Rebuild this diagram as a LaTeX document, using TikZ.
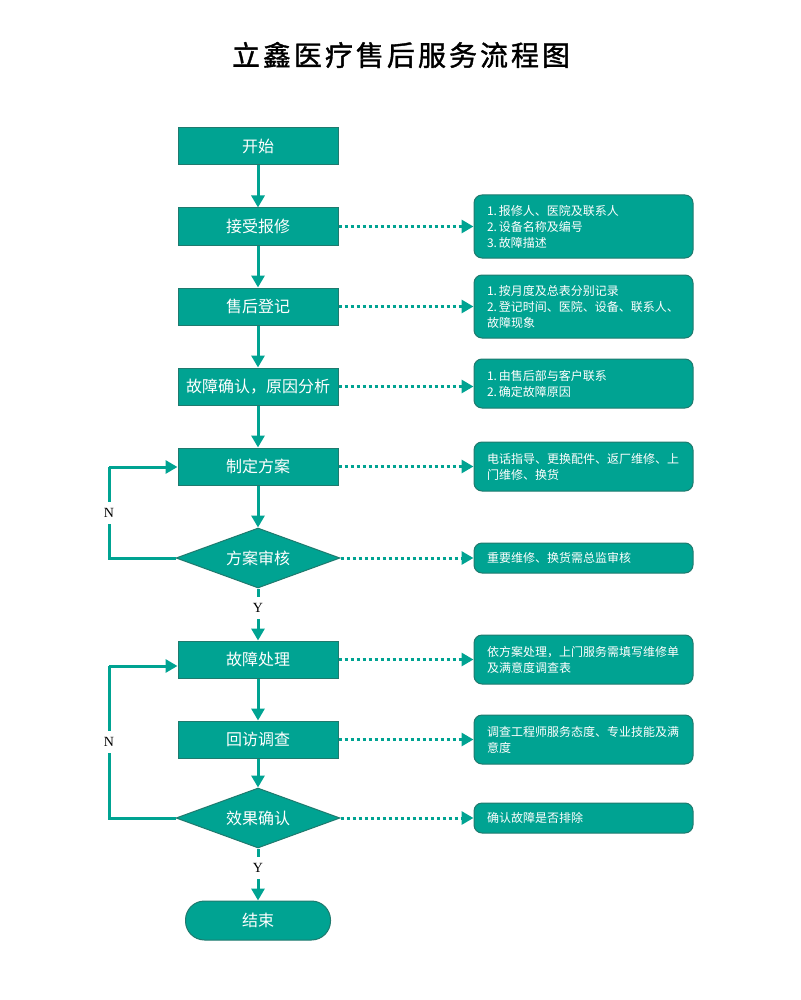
\documentclass[tikz,border=0pt]{standalone}
\usepackage{fontspec}
\setmainfont{Liberation Serif}
\newfontfamily\cjk{Noto Sans CJK SC}
\newfontfamily\cjktitle[BoldFont={Noto Sans CJK SC},BoldFeatures={FakeBold=1.3}]{Noto Sans CJK SC}
\usetikzlibrary{shapes.geometric,arrows.meta}
\definecolor{tealfill}{HTML}{00A392}
\definecolor{tealedge}{HTML}{1F7A6E}
\tikzset{
  x=1pt,y=-1pt,
  mainbox/.style={draw=tealedge,line width=1pt,fill=tealfill,text=white,minimum width=160pt,minimum height=37pt,inner sep=0pt,font=\cjk\fontsize{16}{18}\selectfont},
  endbox/.style={mainbox,minimum width=145pt,minimum height=39pt,rounded corners=19pt},
  decbox/.style={draw=tealedge,line width=1pt,fill=tealfill,text=white,shape=diamond,aspect=2.67,minimum width=164pt,minimum height=60pt,inner sep=0pt,font=\cjk\fontsize{16}{18}\selectfont},
  notebox/.style={draw=tealedge,line width=1pt,fill=tealfill,text=white,rounded corners=8pt,text width=193pt,inner xsep=13pt,inner ysep=0pt,align=left,font=\cjk\fontsize{12}{16}\selectfont},
  flow/.style={draw=tealfill,line width=3pt,-{Triangle[length=12pt,width=13pt]}},
  loopline/.style={draw=tealfill,line width=3pt},
  dotflow/.style={draw=tealfill,line width=3pt,dash pattern=on 3pt off 3pt,-{Triangle[length=12pt,width=13pt]}},
  lbl/.style={fill=white,inner sep=1pt,minimum height=22pt,font=\fontsize{14}{16}\selectfont}
}
\begin{document}
\begin{tikzpicture}
\useasboundingbox (0,0) rectangle (800,1000);
\node[font=\cjktitle\bfseries\fontsize{28}{30}\selectfont] (title) at (401,55) {立\kern3pt 鑫\kern3pt 医\kern3pt 疗\kern3pt 售\kern3pt 后\kern3pt 服\kern3pt 务\kern3pt 流\kern3pt 程\kern3pt 图};

\node[mainbox] (b0) at (258,146.5) {开始};
\node[mainbox] (b1) at (258,226.5) {接受报修};
\node[mainbox] (b2) at (258,306.5) {售后登记};
\node[mainbox] (b3) at (258,386.5) {故障确认，原因分析};
\node[mainbox] (b4) at (258,466.5) {制定方案};
\node[decbox] (d1) at (258,558) {方案审核};
\node[mainbox] (b5) at (258,659.5) {故障处理};
\node[mainbox] (b6) at (258,739.5) {回访调查};
\node[decbox] (d2) at (258,818) {效果确认};
\node[endbox] (e) at (258,920.5) {结束};

\node[notebox,minimum height=63pt] (n1) at (583.5,226.5) {1.\,报修人、医院及联系人\\2.\,设备名称及编号\\3.\,故障描述};
\node[notebox,minimum height=63pt] (n2) at (583.5,306.5) {1.\,按月度及总表分别记录\\2.\,登记时间、医院、设备、联系人、\\故障现象};
\node[notebox,minimum height=49pt] (n3) at (583.5,383.5) {1.\,由售后部与客户联系\\2.\,确定故障原因};
\node[notebox,minimum height=49pt] (n4) at (583.5,466.5) {电话指导、更换配件、返厂维修、上\\门维修、换货};
\node[notebox,minimum height=30pt] (n5) at (583.5,558) {重要维修、换货需总监审核};
\node[notebox,minimum height=49pt] (n6) at (583.5,659.5) {依方案处理，上门服务需填写维修单\\及满意度调查表};
\node[notebox,minimum height=49pt] (n7) at (583.5,739.5) {调查工程师服务态度、专业技能及满\\意度};
\node[notebox,minimum height=30pt] (n8) at (583.5,818) {确认故障是否排除};

\draw[flow] (b0) -- (b1);
\draw[flow] (b1) -- (b2);
\draw[flow] (b2) -- (b3);
\draw[flow] (b3) -- (b4);
\draw[flow] (b4) -- (d1);
\draw[flow] (d1) -- node[lbl,pos=0.38] (y1) {Y} (b5);
\draw[flow] (b5) -- (b6);
\draw[flow] (b6) -- (d2);
\draw[flow] (d2) -- node[lbl,pos=0.38] (y2) {Y} (e);

\coordinate (l1a) at (109,558);
\coordinate (l1b) at (109,467);
\draw[loopline] (d1.west) -- (l1a) -- node[lbl,pos=0.5] (n1lbl) {N} (l1b);
\draw[flow] (l1b) -- (b4.west |- l1b);
\coordinate (l2a) at (109,818);
\coordinate (l2b) at (109,666);
\draw[loopline] (d2.west) -- (l2a) -- node[lbl,pos=0.5] (n2lbl) {N} (l2b);
\draw[flow] (l2b) -- (b5.west |- l2b);

\draw[dotflow] (b1.east) -- (n1.west);
\draw[dotflow] (b2.east) -- (n2.west);
\draw[dotflow] (b3.east) -- (b3.east -| n3.west);
\draw[dotflow] (b4.east) -- (n4.west);
\draw[dotflow] (d1.east) -- (n5.west);
\draw[dotflow] (b5.east) -- (n6.west);
\draw[dotflow] (b6.east) -- (n7.west);
\draw[dotflow] (d2.east) -- (n8.west);
\end{tikzpicture}
\end{document}
